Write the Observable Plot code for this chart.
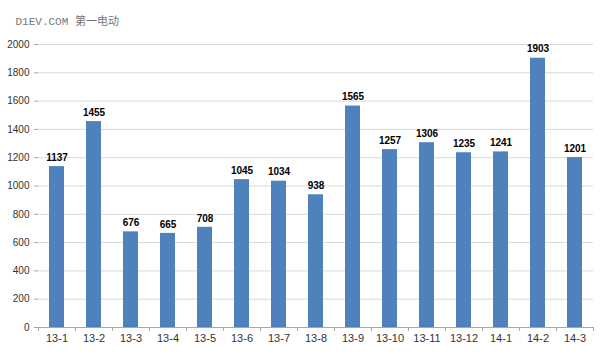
<!DOCTYPE html>
<html>
<head>
<meta charset="utf-8">
<script src="https://cdn.jsdelivr.net/npm/d3@7"></script>
<script src="https://cdn.jsdelivr.net/npm/@observablehq/plot@0.6"></script>
<style>
body { margin: 0; background: #fff; }
#chart svg { display: block; }
</style>
</head>
<body>
<div id="chart"></div>
<script>
const months = ["13-1","13-2","13-3","13-4","13-5","13-6","13-7","13-8","13-9","13-10","13-11","13-12","14-1","14-2","14-3"];
const sales = [1137,1455,676,665,708,1045,1034,938,1565,1257,1306,1235,1241,1903,1201];
const yTicks = [0,200,400,600,800,1000,1200,1400,1600,1800,2000];
const watermark = ["D1EV.COM 第一电动"];

const data = months.map((m, i) => ({month: m, value: sales[i]}));

const W = 600, H = 354, ML = 38, MR = 7, MT = 44, MB = 27;
const step = (W - ML - MR) / months.length;

const chart = Plot.plot({
  width: W,
  height: H,
  marginLeft: ML,
  marginRight: MR,
  marginTop: MT,
  marginBottom: MB,
  style: {fontFamily: "Liberation Sans, Arial, sans-serif", background: "#fff", color: "#333"},
  x: {domain: months, paddingInner: 0.6, paddingOuter: 0.3, axis: null},
  y: {domain: [0, 2000], axis: null},
  marks: [
    Plot.ruleY(yTicks.filter(d => d > 0), {stroke: "#d9d9d9", strokeWidth: 1}),
    Plot.ruleX([0], {frameAnchor: "left", y1: 0, y2: 2000, stroke: "#a6a6a6"}),
    Plot.axisY(yTicks, {ticks: yTicks, tickFormat: d => String(d), tickSize: 4, tickPadding: 5, stroke: "#a6a6a6", fontSize: 10, fill: "#333", label: null}),
    Plot.barY(data, {x: "month", y: "value", fill: "#4f81bd"}),
    Plot.ruleY([0], {stroke: "#a6a6a6"}),
    Plot.ruleX(months, {x: d => d, dx: -step / 2, y1: 0, y2: -28, stroke: "#a6a6a6"}),
    Plot.ruleX([months[months.length - 1]], {x: d => d, dx: step / 2, y1: 0, y2: -28, stroke: "#a6a6a6"}),
    Plot.axisX({tickSize: 0, tickPadding: 7, fontSize: 11, fill: "#333", label: null}),
    Plot.text(data, {x: "month", y: "value", text: d => String(d.value), dy: -9, fontWeight: "bold", fontSize: 10, fill: "#000"}),
    Plot.text(watermark, {frameAnchor: "top-left", text: d => d, dx: -23, dy: -27, textAnchor: "start", fontSize: 11, fill: "#777", fontFamily: "Liberation Mono, Noto Sans CJK SC, monospace"})
  ]
});
document.getElementById("chart").append(chart);
</script>
</body>
</html>
